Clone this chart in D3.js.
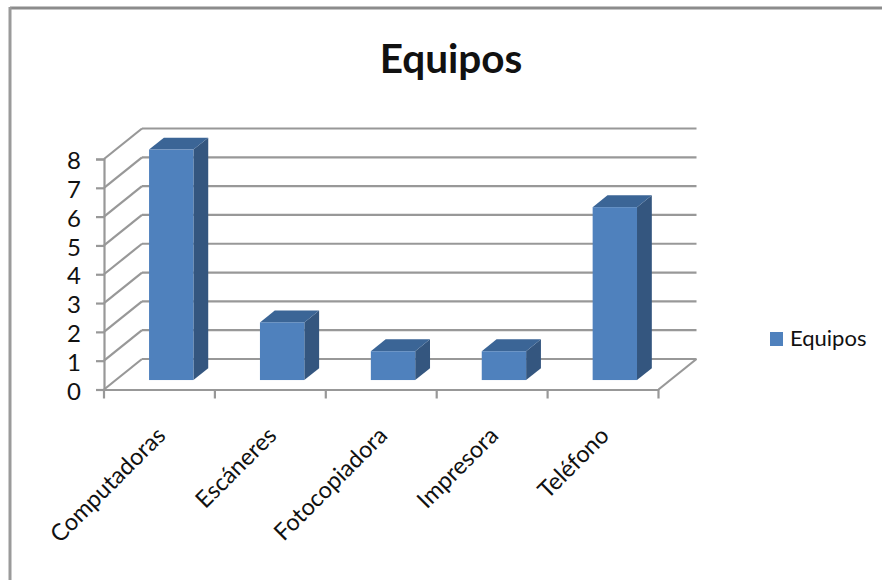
<!DOCTYPE html>
<html>
<head>
<meta charset="utf-8">
<script src="https://cdn.jsdelivr.net/npm/d3@7/dist/d3.min.js"></script>
<style>
  html, body { margin: 0; padding: 0; background: #fff; }
  svg { display: block; }
  text { font-family: Lato, "Open Sans", sans-serif; fill: #111; }
</style>
</head>
<body>
<svg id="chart" width="882" height="580"></svg>
<script>
const categories = ["Computadoras", "Escáneres", "Fotocopiadora", "Impresora", "Teléfono"];
const seriesName = "Equipos";
const values = [8, 2, 1, 1, 6];
const yTicks = [0, 1, 2, 3, 4, 5, 6, 7, 8];

const svg = d3.select("#chart");

// Front plane of the 3D plot and the oblique offset of its back wall
const x = d3.scaleBand().domain(categories).range([104, 658.5]);
const y = d3.scaleLinear().domain([0, 8]).range([389.5, 159]);
const depth = { dx: 38, dy: -30.5 };
const GRID = "#989898";
const barFront = 0.31, barDepth = 0.39;   // fractions of the floor depth
const barInset = 0.3;                     // gap on each side of a bar, fraction of a band

const line = (x1, y1, x2, y2, w = 2.2, c = GRID) => svg.append("line")
  .attr("x1", x1).attr("y1", y1).attr("x2", x2).attr("y2", y2)
  .attr("stroke", c).attr("stroke-width", w);

// Outer frame of the chart area: top and left edges only are in view
line(10, 8, 882, 8, 3, "#8c8c8c");
line(10, 7, 10, 580, 3, "#9a9a9a");

// Gridlines: side-wall diagonal plus back-wall horizontal
yTicks.forEach(t => {
  const y0 = y(t);
  line(x.range()[0], y0, x.range()[0] + depth.dx, y0 + depth.dy);
  line(x.range()[0] + depth.dx, y0 + depth.dy, x.range()[1] + depth.dx, y0 + depth.dy);
});

// Right edge of the floor
line(x.range()[1], y(0), x.range()[1] + depth.dx, y(0) + depth.dy);

// Axes
const yAxis = svg.append("g").attr("transform", `translate(${x.range()[0]},0)`)
  .call(d3.axisLeft(y).tickValues(yTicks).tickSize(8).tickPadding(15).tickFormat(d3.format("d")));
yAxis.select(".domain").attr("stroke", GRID).attr("stroke-width", 2.2);
yAxis.selectAll(".tick line").attr("stroke", GRID).attr("stroke-width", 2.2);
yAxis.selectAll("text").style("font-size", "24px").attr("dy", "0.4em").attr("fill", "#111");

const xAxis = svg.append("g").attr("transform", `translate(0,${y(0)})`)
  .call(d3.axisBottom(x).tickValues([]).tickSize(0));
xAxis.select(".domain").attr("stroke", GRID).attr("stroke-width", 2.2);

// Category boundary ticks
xAxis.selectAll(".boundary")
  .data(categories.concat("end"))
  .join("line")
  .attr("class", "boundary")
  .attr("x1", (d, i) => x.range()[0] + i * x.step())
  .attr("x2", (d, i) => x.range()[0] + i * x.step())
  .attr("y1", 0).attr("y2", 9)
  .attr("stroke", GRID).attr("stroke-width", 2.2);

// Slanted category labels, anchored at their upper right end
xAxis.selectAll(".cat")
  .data(categories)
  .join("text")
  .attr("class", "cat")
  .attr("text-anchor", "end")
  .attr("transform", d => `translate(${x(d) + x.step() / 2 + 7.5},${47.5}) rotate(-45)`)
  .style("font-size", "23.5px")
  .text(d => d);

// Bars: front, top and side faces of each box
const bars = svg.append("g").selectAll("g").data(categories.map((c, i) => ({ c, v: values[i] }))).join("g");
const fx = d => x(d.c) + x.step() * barInset + depth.dx * barFront;
const fw = x.step() * (1 - 2 * barInset);
const fy0 = y(0) + depth.dy * barFront;
const fy = d => fy0 - (y(0) - y(d.v));
const bdx = depth.dx * barDepth, bdy = depth.dy * barDepth;

bars.append("path").attr("fill", "#34567f")
  .attr("d", d => `M${fx(d) + fw},${fy(d)}l${bdx},${bdy}V${fy0 + bdy}l${-bdx},${-bdy}Z`);
bars.append("path").attr("fill", "#3b6596")
  .attr("d", d => `M${fx(d)},${fy(d)}l${bdx},${bdy}h${fw}l${-bdx},${-bdy}Z`);
bars.append("rect").attr("fill", "#4f81bd")
  .attr("x", fx).attr("y", fy).attr("width", fw).attr("height", d => fy0 - fy(d));

// Title
svg.append("text").attr("x", 451).attr("y", 72.5).attr("text-anchor", "middle")
  .style("font-size", "40.5px").style("font-weight", 700).text(seriesName);

// Legend
svg.append("rect").attr("x", 770).attr("y", 332).attr("width", 13).attr("height", 14).attr("fill", "#4f81bd");
svg.append("text").attr("x", 790).attr("y", 346).style("font-size", "22px").text(seriesName);
</script>
</body>
</html>
